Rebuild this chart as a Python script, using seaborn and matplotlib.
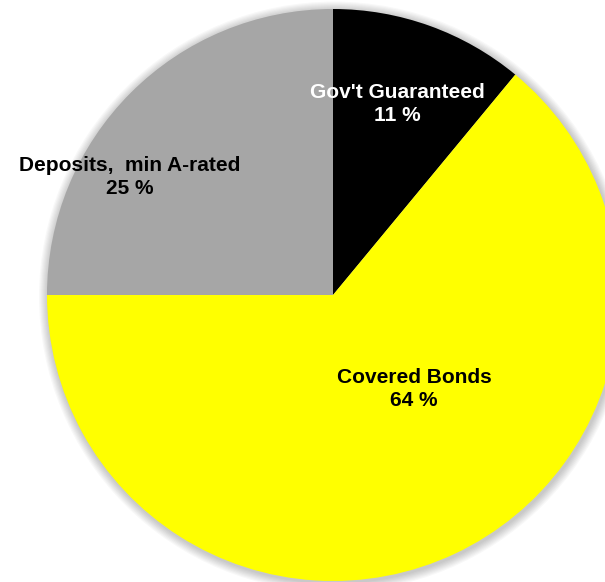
import matplotlib
matplotlib.use("Agg")
import matplotlib.pyplot as plt
from matplotlib.patches import Circle
import seaborn as sns

# Portfolio composition
categories = ["Gov't Guaranteed", "Covered Bonds", "Deposits,  min A-rated"]
shares = [11, 64, 25]
colors = ["#000000", "#FFFF00", "#A6A6A6"]
text_colors = ["white", "black", "black"]

sns.set_style("white")
plt.rcParams["font.family"] = ["Liberation Sans", "DejaVu Sans"]

W, H, DPI = 605, 582, 100
fig = plt.figure(figsize=(W / DPI, H / DPI), dpi=DPI)
ax = fig.add_axes([0, 0, 1, 1])

# pie geometry in pixels: centre and radius
cx, cy, R = 333, 295, 286

wedges, _ = ax.pie(shares, colors=colors, startangle=90, counterclock=False,
                   radius=1.0, wedgeprops=dict(linewidth=0))
for w in wedges:
    w.set_zorder(1)

# soft drop shadow around the disc
for i in range(8):
    ax.add_patch(Circle((0.004, -0.006), 1.0 + 0.004 * (i + 1),
                        color="black", alpha=0.028, lw=0, zorder=0))

ax.set_xlim(-cx / R, (W - cx) / R)
ax.set_ylim(-(H - cy) / R, cy / R)
ax.set_aspect("equal")
ax.axis("off")

# label anchor points (pixels)
label_px = [(397, 104), (414, 389), (130, 177)]
for cat, val, tc, (px, py) in zip(categories, shares, text_colors, label_px):
    ax.text((px - cx) / R, (cy - py) / R, f"{cat}\n{val} %",
            ha="center", va="center", fontsize=15, fontweight="bold",
            color=tc, linespacing=1.3, zorder=3)

fig.savefig("out.png", dpi=DPI)
